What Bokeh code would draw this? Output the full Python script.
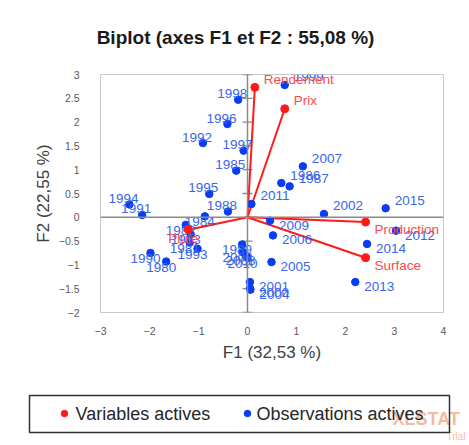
from bokeh.plotting import figure
from bokeh.models import Range1d, Span, FixedTicker
from bokeh.layouts import column
from bokeh.embed import file_html
from bokeh.resources import INLINE
from bokeh.core.properties import value

# ---------------- data ----------------
years = ["1980", "1981", "1982", "1983", "1984", "1985", "1986", "1987", "1988", "1989",
         "1990", "1991", "1992", "1993", "1994", "1995", "1996", "1997", "1998", "1999",
         "2000", "2001", "2002", "2003", "2004", "2005", "2006", "2007", "2008", "2009",
         "2010", "2011", "2012", "2013", "2014", "2015"]
obs_f1 = [-1.66, -1.18, -1.26, -1.16, -0.87, -0.23, 0.69, 0.86, -0.40, -0.11,
          -1.98, -2.15, -0.91, -1.02, -2.41, -0.78, -0.41, -0.08, -0.19, 0.76,
          0.05, 0.05, 1.56, -0.10, 0.06, 0.49, 0.52, 1.13, -0.04, 0.46,
          0.00, 0.08, 3.03, 2.20, 2.44, 2.82]
obs_f2 = [-0.93, -0.53, -0.16, -0.36, 0.02, 0.98, 0.72, 0.65, 0.12, -0.57,
          -0.75, 0.05, 1.56, -0.66, 0.27, 0.49, 1.96, 1.40, 2.47, 2.78,
          -1.49, -1.36, 0.07, -0.73, -1.52, -0.94, -0.38, 1.07, -0.80, -0.07,
          -0.85, 0.28, -0.28, -1.36, -0.56, 0.19]
# label placement: la = left/above, lb = left/below, ra = right/above, rb = right/below
obs_label_pos = ["lb", "lb", "lb", "lb", "lb", "la", "ra", "ra", "la", "lb",
                 "lb", "la", "la", "lb", "la", "la", "la", "la", "la", "ra",
                 "rb", "rb", "ra", "lb", "rb", "rb", "rb", "ra", "lb", "rb",
                 "lb", "ra", "rb", "rb", "rb", "ra"]

var_names = ["Rendement", "Prix", "Production", "Surface", "Pluie"]
var_f1 = [0.15, 0.76, 2.41, 2.41, -1.21]
var_f2 = [2.73, 2.28, -0.10, -0.85, -0.26]
var_label_pos = ["ra", "ra", "rb", "rb", "lb"]

x_ticks = [-3, -2, -1, 0, 1, 2, 3, 4]
y_ticks = [-2, -1.5, -1, -0.5, 0, 0.5, 1, 1.5, 2, 2.5, 3]

title_text = "Biplot (axes F1 et F2 : 55,08 %)"
x_title = "F1 (32,53 %)"
y_title = "F2 (22,55 %)"
legend_labels = ["Variables actives", "Observations actives"]

# ---------------- styles ----------------
FONT = "Liberation Sans"
BLUE_PT = "#0a3cf5"
BLUE_TX = "#3a66ea"
RED = "#ff1a1a"
RED_TX = "#ff4848"
AXIS_GRAY = "#8a8a8a"
W = 469

POS = {
    "la": dict(text_align="right", text_baseline="alphabetic", x_offset=9, y_offset=-6),
    "lb": dict(text_align="right", text_baseline="top", x_offset=10, y_offset=1),
    "ra": dict(text_align="left", text_baseline="alphabetic", x_offset=9, y_offset=-8),
    "rb": dict(text_align="left", text_baseline="top", x_offset=9, y_offset=0),
}


def blank(fig):
    fig.axis.visible = False
    fig.grid.visible = False
    fig.outline_line_color = None
    return fig


# ---------------- title strip ----------------
TH = 66
ft = blank(figure(width=W, height=TH, x_range=Range1d(0, W), y_range=Range1d(0, TH),
                  output_backend="svg", toolbar_location=None, min_border=0,
                  x_axis_location=None, y_axis_location=None, frame_align=False))
ft.text(x=[235], y=[TH - 37], text=[title_text], text_font=value(FONT), text_font_style="bold",
        text_font_size="19px", text_align="center", text_baseline="middle", text_color="#1a1a1a")

# ---------------- main plot ----------------
p = figure(width=W, height=318, x_range=Range1d(-3, 4), y_range=Range1d(-2, 3),
           output_backend="svg", toolbar_location=None, frame_align=False,
           min_border_left=100, min_border_right=26, min_border_top=8, min_border_bottom=72)
p.grid.visible = False
p.outline_line_color = "#c8c8c8"
p.outline_line_width = 1

p.xaxis.ticker = FixedTicker(ticks=x_ticks)
p.yaxis.ticker = FixedTicker(ticks=y_ticks)
for ax in (p.xaxis[0], p.yaxis[0]):
    ax.axis_line_color = None
    ax.major_tick_line_color = None
    ax.minor_tick_line_color = None
    ax.major_label_text_font = FONT
    ax.major_label_text_font_size = "10.5px"
    ax.major_label_text_color = "#595959"
    ax.axis_label_text_font = FONT
    ax.axis_label_text_font_size = "17px"
    ax.axis_label_text_font_style = "normal"
    ax.axis_label_text_color = "#404040"
p.xaxis.axis_label = x_title
p.yaxis.axis_label = y_title
p.xaxis.major_label_standoff = 8
p.yaxis.major_label_standoff = 15
p.xaxis.axis_label_standoff = 5
p.yaxis.axis_label_standoff = 3
p.yaxis.major_label_orientation = "horizontal"

# zero axes, tick marks on the vertical one
p.add_layout(Span(location=0, dimension="height", line_color=AXIS_GRAY, line_width=1.5))
p.add_layout(Span(location=0, dimension="width", line_color=AXIS_GRAY, line_width=1.5))
p.scatter(x=[0] * len(y_ticks), y=y_ticks, marker="dash", size=10, line_color=AXIS_GRAY, line_width=1.3)

# variable vectors
p.segment(x0=[0] * len(var_f1), y0=[0] * len(var_f1), x1=var_f1, y1=var_f2,
          line_color=RED, line_width=2)

# observations
p.scatter(x=obs_f1, y=obs_f2, size=7.5, fill_color=BLUE_PT, line_color=BLUE_PT)
for code, st in POS.items():
    idx = [i for i, c in enumerate(obs_label_pos) if c == code]
    if idx:
        p.text(x=[obs_f1[i] for i in idx], y=[obs_f2[i] for i in idx], text=[years[i] for i in idx],
               text_font=value(FONT), text_font_size="13.5px", text_color=BLUE_TX, **st)

p.scatter(x=var_f1, y=var_f2, size=8, fill_color=RED, line_color=RED)
for code, st in POS.items():
    idx = [i for i, c in enumerate(var_label_pos) if c == code]
    if idx:
        p.text(x=[var_f1[i] for i in idx], y=[var_f2[i] for i in idx], text=[var_names[i] for i in idx],
               text_font=value(FONT), text_font_size="13.5px", text_color=RED_TX, **st)

# ---------------- legend strip ----------------
LH = 61
fl = blank(figure(width=W, height=LH, x_range=Range1d(0, W), y_range=Range1d(0, LH),
                  output_backend="svg", toolbar_location=None, min_border=0,
                  x_axis_location=None, y_axis_location=None, frame_align=False))
fl.text(x=[392], y=[LH - 34], text=["XLSTAT"], text_font=value(FONT), text_font_style="bold",
        text_font_size="18px", text_color="#f3a27a", text_alpha=0.75, text_baseline="middle")
fl.text(x=[465], y=[9], text=["Trial"], text_font=value(FONT), text_font_size="10px",
        text_color="#f3a27a", text_alpha=0.75, text_align="right", text_baseline="middle")
fl.quad(left=[29], right=[449], bottom=[LH - 48], top=[LH - 11], fill_color=None,
        line_color="#303030", line_width=1.5)
fl.scatter(x=[64], y=[LH - 29], size=6.5, fill_color=RED, line_color=RED)
fl.scatter(x=[247], y=[LH - 29], size=6.5, fill_color=BLUE_PT, line_color=BLUE_PT)
fl.text(x=[75, 256], y=[LH - 29, LH - 29], text=legend_labels, text_font=value(FONT),
        text_font_size="18px", text_color="#262626", text_baseline="middle")

layout = column(ft, p, fl, spacing=0)
open("out.html", "w").write(file_html(layout, INLINE))
